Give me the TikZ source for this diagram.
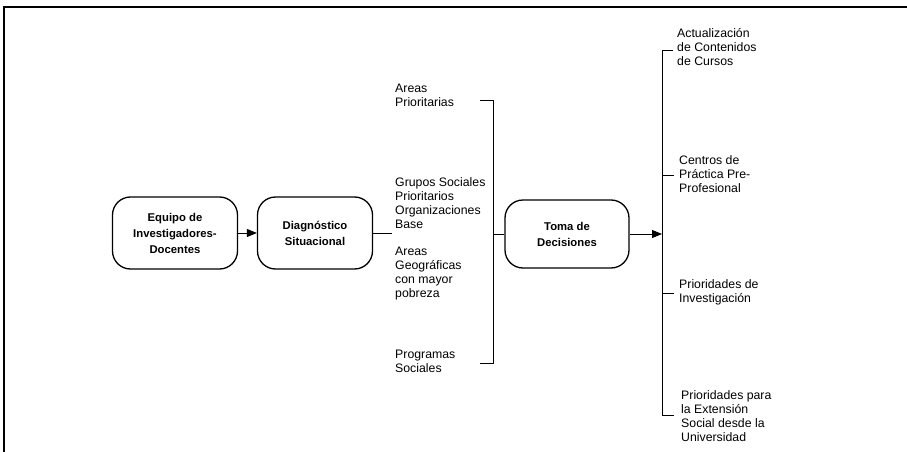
\documentclass[tikz,border=0pt]{standalone}
\usepackage{fontspec}
\setmainfont{Liberation Sans}
\usetikzlibrary{arrows.meta}
\begin{document}
\begin{tikzpicture}[x=1pt,y=-1pt,
  procbox/.style={draw,line width=1.3pt,rounded corners=18pt,align=center,
    font=\fontsize{11.3}{16}\selectfont\bfseries,inner sep=0pt},
  lbl/.style={anchor=north west,inner sep=0pt,align=left,
    font=\fontsize{12.3}{14}\selectfont},
  ln/.style={line width=0.8pt},
  arr/.style={line width=0.9pt,-{Triangle[length=10pt,width=8pt]}}]
\useasboundingbox (0,0) rectangle (907,452);
% frame
\draw[line width=1.2pt] (907,7) -- (4,7) -- (4,452);
% boxes
\node[procbox,minimum width=125pt,minimum height=72pt] (b1) at (175,233) {Equipo de\\Investigadores-\\Docentes};
\node[procbox,minimum width=115pt,minimum height=72pt] (b2) at (315,233) {Diagnóstico\\Situacional};
\node[procbox,minimum width=124pt,minimum height=68pt] (b3) at (567,234) {Toma de\\Decisiones};
\draw[arr] (b1) -- (b2);
% left bracket
\coordinate (l0) at (392,233);
\coordinate (lt) at (480,100);
\coordinate (lta) at (493,100);
\coordinate (lb) at (480,363);
\coordinate (lba) at (493,363);
\coordinate (lm) at (493,234);
\draw[ln] (b2.east) -- (l0);
\draw[ln] (lt) -- (lta) -- (lba) -- (lb);
\draw[ln] (lm) -- (b3.west);
% labels left
\node[lbl] (la1) at (395,84) {Areas\\Prioritarias};
\node[lbl] (la2) at (395,177) {Grupos Sociales\\Prioritarios\\Organizaciones\\Base};
\node[lbl] (la3) at (395,247) {Areas\\Geográficas\\con mayor\\pobreza};
\node[lbl] (la4) at (395,350) {Programas\\Sociales};
% right bracket
\coordinate (ra) at (662,234);
\coordinate (rt) at (662,50);
\coordinate (rb) at (662,415);
\coordinate (r1t) at (673,50);
\coordinate (r2m) at (662,175);
\coordinate (r2t) at (674,175);
\coordinate (r3m) at (662,293);
\coordinate (r3t) at (674,293);
\coordinate (r4t) at (674,415);
\draw[arr] (b3.east) -- (ra);
\draw[ln] (r1t) -- (rt) -- (rb) -- (r4t);
\draw[ln] (r2m) -- (r2t);
\draw[ln] (r3m) -- (r3t);
% labels right
\node[lbl] (ra1) at (677,28) {Actualización\\de Contenidos\\de Cursos};
\node[lbl] (ra2) at (679,155) {Centros de\\Práctica Pre-\\Profesional};
\node[lbl] (ra3) at (679,279) {Prioridades de\\Investigación};
\node[lbl] (ra4) at (681,390) {Prioridades para\\la Extensión\\Social desde la\\Universidad};
\end{tikzpicture}
\end{document}
